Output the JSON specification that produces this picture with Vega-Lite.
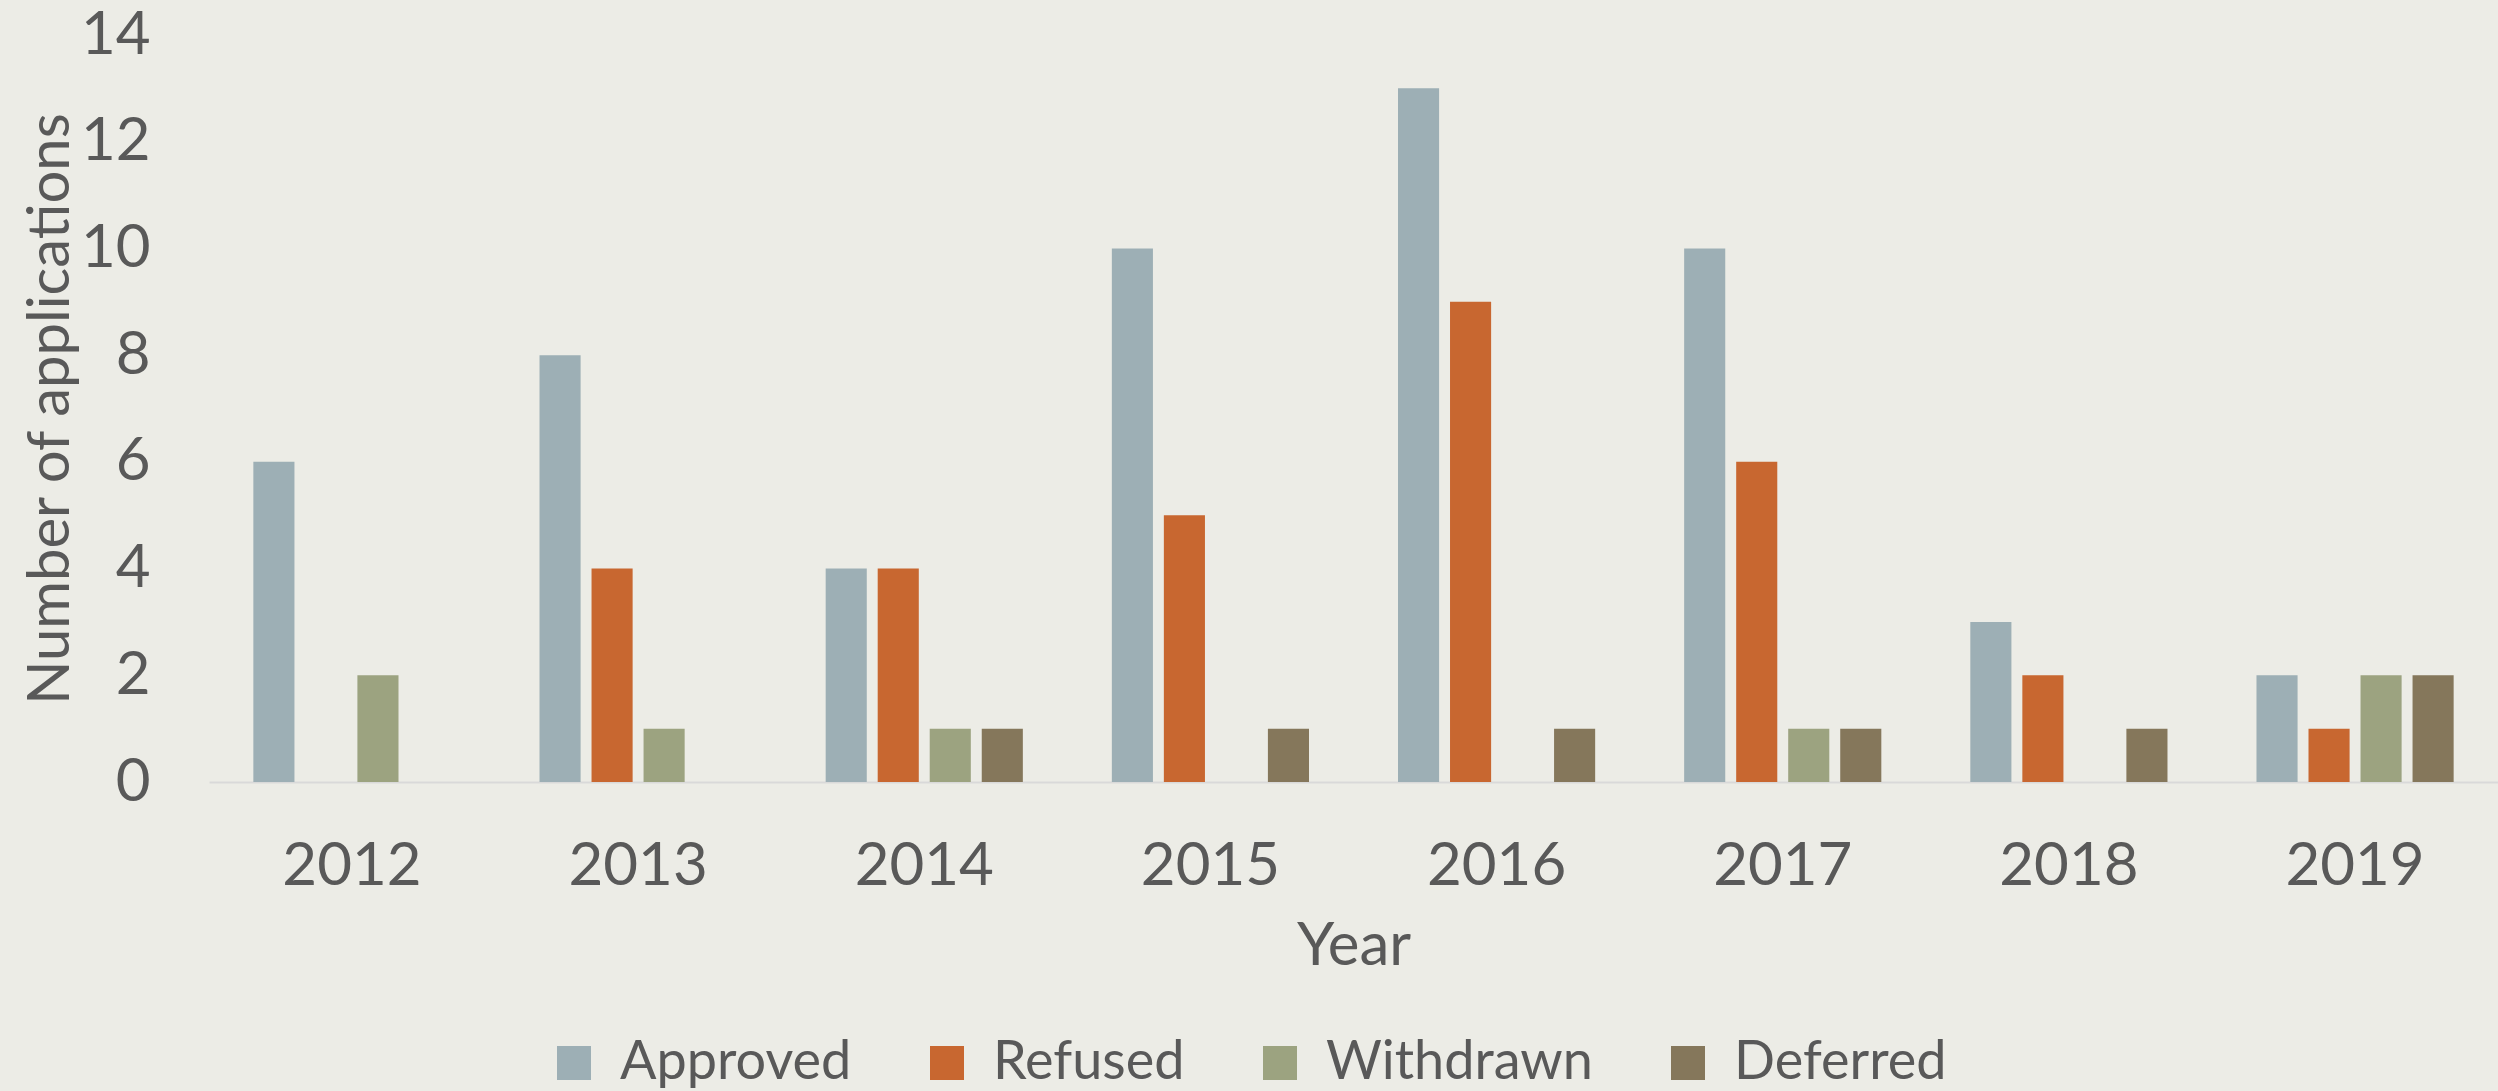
{
  "$schema": "https://vega.github.io/schema/vega-lite/v6.json",
  "width": 2289,
  "height": 747,
  "autosize": {"type": "none"},
  "padding": {"left": 209, "top": 35, "right": 0, "bottom": 309},
  "background": "#ECECE6",
  "config": {
    "view": {"stroke": null},
    "font": "Lato",
    "axis": {"labelColor": "#595959", "titleColor": "#595959", "labelFont": "Lato", "titleFont": "Lato", "titleFontWeight": "normal"},
    "legend": {"labelColor": "#595959", "labelFont": "Lato"}
  },
  "data": {
    "values": [
      {"Year": "2012", "Status": "Approved", "Count": 6},
      {"Year": "2012", "Status": "Withdrawn", "Count": 2},
      {"Year": "2013", "Status": "Approved", "Count": 8},
      {"Year": "2013", "Status": "Refused", "Count": 4},
      {"Year": "2013", "Status": "Withdrawn", "Count": 1},
      {"Year": "2014", "Status": "Approved", "Count": 4},
      {"Year": "2014", "Status": "Refused", "Count": 4},
      {"Year": "2014", "Status": "Withdrawn", "Count": 1},
      {"Year": "2014", "Status": "Deferred", "Count": 1},
      {"Year": "2015", "Status": "Approved", "Count": 10},
      {"Year": "2015", "Status": "Refused", "Count": 5},
      {"Year": "2015", "Status": "Deferred", "Count": 1},
      {"Year": "2016", "Status": "Approved", "Count": 13},
      {"Year": "2016", "Status": "Refused", "Count": 9},
      {"Year": "2016", "Status": "Deferred", "Count": 1},
      {"Year": "2017", "Status": "Approved", "Count": 10},
      {"Year": "2017", "Status": "Refused", "Count": 6},
      {"Year": "2017", "Status": "Withdrawn", "Count": 1},
      {"Year": "2017", "Status": "Deferred", "Count": 1},
      {"Year": "2018", "Status": "Approved", "Count": 3},
      {"Year": "2018", "Status": "Refused", "Count": 2},
      {"Year": "2018", "Status": "Deferred", "Count": 1},
      {"Year": "2019", "Status": "Approved", "Count": 2},
      {"Year": "2019", "Status": "Refused", "Count": 1},
      {"Year": "2019", "Status": "Withdrawn", "Count": 2},
      {"Year": "2019", "Status": "Deferred", "Count": 2}
    ]
  },
  "mark": {"type": "bar"},
  "encoding": {
    "x": {
      "field": "Year",
      "type": "nominal",
      "scale": {"paddingInner": 0.311, "paddingOuter": 0.155},
      "axis": {
        "title": "Year",
        "labelAngle": 0,
        "labelFontSize": 60,
        "titleFontSize": 60,
        "ticks": false,
        "labelPadding": 55,
        "titlePadding": 21,
        "domainColor": "#D9D9D9",
        "domainWidth": 2,
        "grid": false
      }
    },
    "xOffset": {
      "field": "Status",
      "type": "nominal",
      "scale": {"domain": ["Approved", "Refused", "Withdrawn", "Deferred"], "paddingInner": 0.21, "paddingOuter": 0}
    },
    "y": {
      "field": "Count",
      "type": "quantitative",
      "scale": {"domain": [0, 14], "nice": false},
      "axis": {
        "title": "Number of applications",
        "values": [0, 2, 4, 6, 8, 10, 12, 14],
        "labelFontSize": 60,
        "titleFontSize": 58,
        "ticks": false,
        "domain": false,
        "grid": false,
        "labelPadding": 59,
        "titlePadding": 0
      }
    },
    "color": {
      "field": "Status",
      "type": "nominal",
      "scale": {
        "domain": ["Approved", "Refused", "Withdrawn", "Deferred"],
        "range": ["#9DAFB5", "#C86730", "#9CA380", "#85775B"]
      },
      "legend": {
        "title": null,
        "orient": "none",
        "direction": "horizontal",
        "legendX": 338,
        "legendY": 1001,
        "symbolType": "square",
        "symbolSize": 1156,
        "symbolStrokeWidth": 0,
        "labelFontSize": 54,
        "labelOffset": 19,
        "columnPadding": 68,
        "labelLimit": 1000
      }
    }
  }
}
